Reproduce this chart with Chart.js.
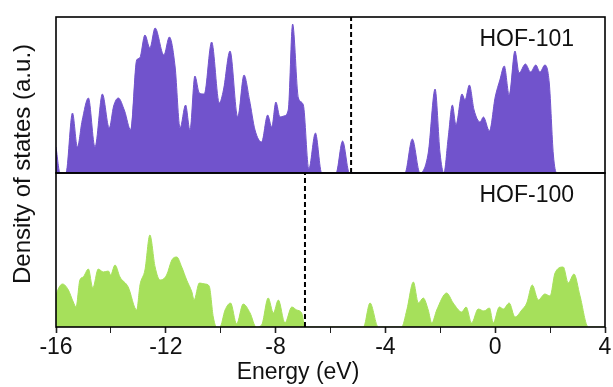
<!DOCTYPE html>
<html>
<head>
<meta charset="utf-8">
<script src="https://cdn.jsdelivr.net/npm/chart.js@4/dist/chart.umd.min.js"></script>
<style>
html,body{margin:0;padding:0;background:#fff;}
#wrap{position:relative;width:613px;height:387px;}
</style>
</head>
<body>
<div id="wrap"><canvas id="c" width="613" height="387"></canvas></div>
<script>
// ---- Data (arbitrary units) ----
const energy101 = [-16.0,-15.85,-15.64,-15.4,-15.22,-15.05,-14.82,-14.58,-14.31,-14.06,-13.9,-13.73,-13.5,-13.28,-13.06,-12.95,-12.76,-12.58,-12.39,-12.07,-11.87,-11.66,-11.48,-11.28,-11.12,-10.94,-10.78,-10.6,-10.33,-10.05,-9.9,-9.66,-9.38,-9.15,-8.95,-8.75,-8.51,-8.29,-8.14,-7.99,-7.84,-7.7,-7.54,-7.38,-7.17,-6.99,-6.79,-6.55,-6.32,-5.8,-5.56,-5.31,-3.29,-3.02,-2.74,-2.44,-2.19,-2.01,-1.87,-1.71,-1.56,-1.43,-1.21,-1.1,-0.94,-0.77,-0.55,-0.43,-0.21,0.0,0.17,0.33,0.51,0.72,0.87,1.1,1.29,1.48,1.63,1.81,1.97,2.12,2.24,4.0];
const dos101    = [26,0,0,60,26,52,75,26,79,45,67,75,62,43,113,115,138,125,145,118,136,106,45,68,43,97,80,79,131,70,83,122,56,98,73,43,31,58,46,71,56,57,63,149,75,68,4,40,0,0,32,0,0,34,0,20,84,20,0,36,68,48,79,73,88,63,51,56,42,76,93,107,78,122,100,109,101,108,101,108,90,18,0,0];
const energy100 = [-16.0,-15.97,-15.76,-15.55,-15.37,-15.27,-15.13,-15.01,-14.82,-14.66,-14.46,-14.28,-14.09,-14.01,-13.85,-13.67,-13.37,-13.06,-12.94,-12.76,-12.58,-12.39,-12.21,-11.97,-11.78,-11.6,-11.42,-11.24,-11.05,-10.97,-10.78,-10.57,-10.42,-10.27,-10.15,-10.03,-9.84,-9.64,-9.42,-9.18,-8.93,-8.71,-8.51,-8.27,-8.08,-7.9,-7.66,-7.41,-7.23,-7.05,-6.93,-4.8,-4.56,-4.26,-3.41,-3.22,-2.98,-2.8,-2.62,-2.44,-2.31,-2.13,-1.77,-1.53,-1.22,-1.06,-0.86,-0.62,-0.41,-0.21,-0.07,0.15,0.3,0.51,0.72,0.97,1.15,1.35,1.57,1.81,2.0,2.18,2.48,2.66,2.87,3.09,3.39,4.0];
const dos100    = [30,34,43,37,25,20,47,50,58,39,58,55,56,52,62,50,40,17,42,57,92,60,47,52,67,70,60,47,35,27,44,43,41,10,0,0,17,24,3,23,14,0,2,29,14,27,4,20,17,14,0,0,24,0,0,17,45,24,29,17,4,17,34,24,15,20,4,18,16,19,4,20,18,24,10,17,24,42,27,33,31,54,60,44,53,31,0,0];
const fermiLevels = [-5.25, -6.93];      // dashed lines: HOF-101, HOF-100
const panelNames  = ['HOF-101', 'HOF-100'];
const xTickValues = [-16, -12, -8, -4, 0, 4];

const FONT = "'Liberation Sans', Arial, sans-serif";
const PURPLE = '#7153cc';
const GREEN  = '#a6e05b';
const TOPMAX = 156, BOTMAX = 154;

function pts(xs, ys){ return xs.map((x,i)=>({x:x, y:ys[i]})); }

const framePlugin = {
  id: 'frames',
  afterDatasetsDraw(chart){
    const ctx = chart.ctx, xs = chart.scales.x;
    ctx.save();
    ctx.strokeStyle = '#000';
    ctx.lineWidth = 1.6;
    ctx.fillStyle = '#111';
    ['yTop','yBot'].forEach((id, i)=>{
      const s = chart.scales[id];
      ctx.strokeRect(xs.left, s.top, xs.right - xs.left, s.bottom - s.top);
      ctx.font = '23px ' + FONT;
      ctx.textAlign = 'right';
      ctx.textBaseline = 'middle';
      ctx.fillText(panelNames[i], xs.right - 31, s.top + 23);
    });
    // x-axis title
    ctx.textAlign = 'center';
    ctx.textBaseline = 'middle';
    ctx.font = '23px ' + FONT;
    ctx.fillText('Energy (eV)', 298, 373);
    // y-axis title spanning both panels
    const t = chart.scales.yTop.top, b = chart.scales.yBot.bottom;
    ctx.translate(23, (t + b) / 2 - 8);
    ctx.rotate(-Math.PI/2);
    ctx.font = '24px ' + FONT;
    ctx.fillText('Density of states (a.u.)', 0, 0);
    ctx.restore();
  }
};

new Chart(document.getElementById('c'), {
  type: 'line',
  data: {
    datasets: [
      { data: [{x:fermiLevels[0], y:0},{x:fermiLevels[0], y:TOPMAX}], yAxisID:'yTop', borderColor:'#000', borderWidth:2, borderDash:[5,3], pointRadius:0, fill:false, tension:0, order:0 },
      { data: [{x:fermiLevels[1], y:0},{x:fermiLevels[1], y:BOTMAX}], yAxisID:'yBot', borderColor:'#000', borderWidth:2, borderDash:[5,3], pointRadius:0, fill:false, tension:0, order:0 },
      { data: pts(energy101, dos101), yAxisID:'yTop', borderColor:PURPLE, backgroundColor:PURPLE, borderWidth:1, pointRadius:0, fill:'origin', cubicInterpolationMode:'monotone', order:1 },
      { data: pts(energy100, dos100), yAxisID:'yBot', borderColor:GREEN, backgroundColor:GREEN, borderWidth:1, pointRadius:0, fill:'origin', cubicInterpolationMode:'monotone', order:1 }
    ]
  },
  options: {
    responsive: false,
    animation: false,
    clip: true,
    layout: { padding: { left: 0, right: 8, top: 17, bottom: 0 } },
    plugins: { legend: { display: false }, tooltip: { enabled: false } },
    scales: {
      x: {
        type: 'linear', min: -16, max: 4,
        afterBuildTicks(s){ const arr=[]; for(let v=-16; v<=4; v+=2) arr.push({value:v}); s.ticks = arr; },
        ticks: {
          color:'#111', font:{ family: FONT, size: 23 }, padding: 1, maxRotation:0, autoSkip:false,
          callback: (v)=> xTickValues.includes(v) ? String(v) : ''
        },
        grid: { drawOnChartArea:false, drawTicks:true, tickLength:6, tickColor:'#222',
                tickWidth: (c)=> (c.tick && xTickValues.includes(c.tick.value)) ? 1.6 : 1 },
        border: { display:false },
        title: { display:false },
        afterFit(s){ s.height = 60; }
      },
      yBot: {
        type:'linear', position:'left', stack:'dos', stackWeight: BOTMAX, min:0, max:BOTMAX,
        ticks:{ display:false }, grid:{ display:false }, border:{ display:false },
        afterFit(s){ s.width = 56; }
      },
      yTop: {
        type:'linear', position:'left', stack:'dos', stackWeight: TOPMAX, min:0, max:TOPMAX,
        ticks:{ display:false }, grid:{ display:false }, border:{ display:false },
        afterFit(s){ s.width = 56; }
      }
    }
  },
  plugins: [framePlugin]
});
</script>
</body>
</html>
